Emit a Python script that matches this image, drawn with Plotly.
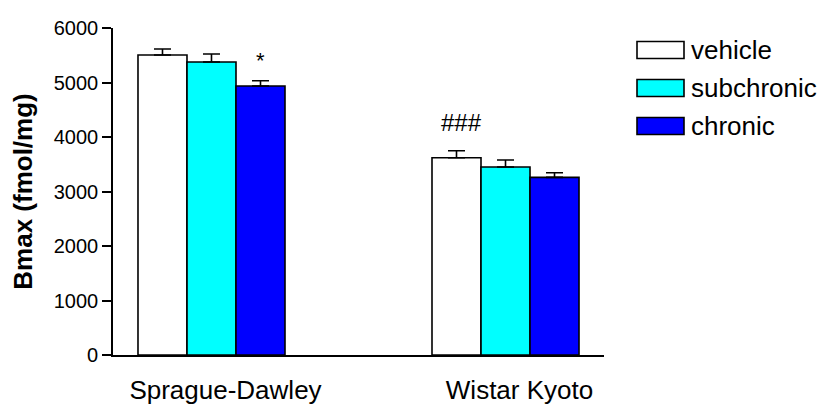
import plotly.graph_objects as go

# ---- data ----
categories = ["Sprague-Dawley", "Wistar Kyoto"]
series_names = ["vehicle", "subchronic", "chronic"]
vehicle = [5505, 3620]
vehicle_err = [110, 129]
subchronic = [5376, 3450]
subchronic_err = [147, 128]
chronic = [4936, 3260]
chronic_err = [97, 85]
y_ticks = [0, 1000, 2000, 3000, 4000, 5000, 6000]

values = [vehicle, subchronic, chronic]
errors = [vehicle_err, subchronic_err, chronic_err]
colors = ["#FFFFFF", "#00FFFF", "#0000FF"]

FONT = "Arial, Liberation Sans, sans-serif"

fig = go.Figure()
for name, vals, errs, col in zip(series_names, values, errors, colors):
    fig.add_trace(go.Bar(
        name=name, x=categories, y=vals,
        marker=dict(color=col, line=dict(color="black", width=1.6)),
        error_y=dict(type="data", array=errs, symmetric=False,
                     arrayminus=[0] * len(errs),
                     color="black", thickness=1.6, width=8.5),
        showlegend=False,
    ))

# page geometry: the html body adds an 8px offset, so the figure is 8px smaller
OFF = 8
W, H = 827 - OFF, 409 - OFF
L, R, T, B = 113 - OFF, 223, 28 - OFF, 54
pw, ph = W - L - R, H - T - B

def px_x(px):  # page pixel -> paper
    return (px - OFF - L) / pw

def px_y(py):
    return (H - B - (py - OFF)) / ph

shapes = []
annotations = []
for i, (name, col) in enumerate(zip(series_names, colors)):
    cy = 50 + 38 * i
    shapes.append(dict(type="rect", xref="paper", yref="paper",
                       x0=px_x(637), x1=px_x(684),
                       y0=px_y(cy + 8.5), y1=px_y(cy - 8.5),
                       fillcolor=col, line=dict(color="black", width=1.6)))
    annotations.append(dict(xref="paper", yref="paper", x=px_x(689), y=px_y(cy),
                            xanchor="left", yanchor="middle", text=name,
                            showarrow=False, font=dict(family=FONT, size=26, color="black")))

# significance markers
annotations.append(dict(xref="x", yref="y", x=0, y=chronic[0] + chronic_err[0],
                        xshift=49, yshift=6, text="*", showarrow=False,
                        xanchor="center", yanchor="bottom",
                        font=dict(family=FONT, size=22, color="black")))
annotations.append(dict(xref="x", yref="y", x=1, y=vehicle[1] + vehicle_err[1],
                        xshift=-44, yshift=13, text="###", showarrow=False,
                        xanchor="center", yanchor="bottom",
                        font=dict(family=FONT, size=24, color="black")))

fig.update_layout(
    width=W, height=H,
    margin=dict(l=L, r=R, t=T, b=B, pad=0, autoexpand=False),
    paper_bgcolor="white", plot_bgcolor="white",
    barmode="group", bargap=0.5, bargroupgap=0,
    font=dict(family=FONT, color="black"),
    shapes=shapes, annotations=annotations,
    xaxis=dict(range=[-0.335, 1.335], showline=True, linecolor="black", linewidth=1.6,
               ticks="", showgrid=False, zeroline=False, automargin=False,
               tickfont=dict(family=FONT, size=26, color="black"),
               ticklabelstandoff=11, ticklabelshift=14),
    yaxis=dict(range=[0, 6000], tickvals=y_ticks, showline=True, linecolor="black",
               linewidth=1.6, ticks="outside", ticklen=9, tickwidth=1.6, tickcolor="black",
               showgrid=False, zeroline=False, automargin=False,
               tickfont=dict(family=FONT, size=20, color="black"),
               title=dict(text="<b>Bmax (fmol/mg)</b>", standoff=14,
                          font=dict(family=FONT, size=26, color="black"))),
)

fig.write_html("out.html")
